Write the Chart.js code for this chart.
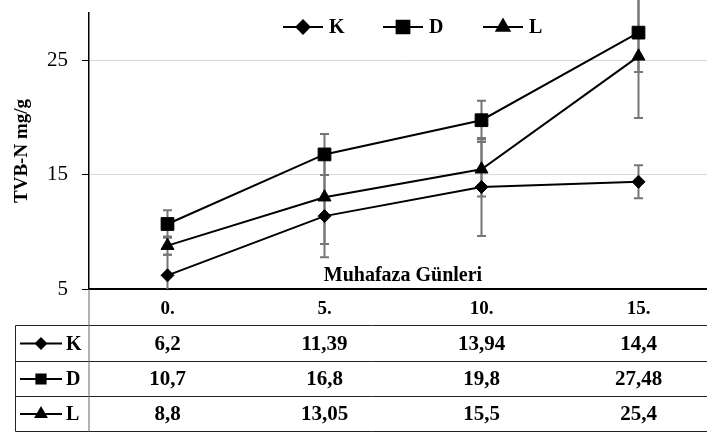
<!DOCTYPE html>
<html>
<head>
<meta charset="utf-8">
<script src="https://cdn.jsdelivr.net/npm/chart.js@4.4.1/dist/chart.umd.min.js"></script>
<style>
  html, body { margin: 0; padding: 0; background: #fff; overflow: hidden; }
</style>
</head>
<body>
<canvas id="tvbChart" width="727" height="436"></canvas>
<script>
// Veriler
const days = ['0.', '5.', '10.', '15.'];
const seriesNames = ['K', 'D', 'L'];
const valuesK = [6.2, 11.39, 13.94, 14.4];
const valuesD = [10.7, 16.8, 19.8, 27.48];
const valuesL = [8.8, 13.05, 15.5, 25.4];
// hata çubukları (± değer)
const errK = [1.8, 3.6, 4.3, 1.45];
const errD = [1.2, 1.8, 1.7, 3.45];
const errL = [0.8, 4.1, 2.4, 5.4];
const yTicks = [5, 15, 25];

const FONT = "'Liberation Serif', 'Times New Roman', serif";
const markers = [
  { style: 'rectRot', radius: 6.5, small: 5 },
  { style: 'rect', radius: 9, small: 6.5 },
  { style: 'triangle', radius: 7.5, small: 6 }
];

const fmt = v => v.toString().replace('.', ',');

const extras = {
  id: 'tvbExtras',
  beforeDatasetsDraw(chart) {
    const { ctx, chartArea } = chart;
    const xs = chart.scales.x, ys = chart.scales.y;
    const errs = [errK, errD, errL];
    ctx.save();
    ctx.strokeStyle = '#767676';
    ctx.lineWidth = 2;
    chart.data.datasets.forEach((ds, i) => {
      ds.data.forEach((v, j) => {
        const x = xs.getPixelForValue(j);
        const yTop = ys.getPixelForValue(v + errs[i][j]);
        let yBot = ys.getPixelForValue(v - errs[i][j]);
        const clipped = yBot > chartArea.bottom;
        if (clipped) yBot = chartArea.bottom;
        ctx.beginPath();
        ctx.moveTo(x, yTop); ctx.lineTo(x, yBot);
        ctx.moveTo(x - 4.5, yTop); ctx.lineTo(x + 4.5, yTop);
        if (!clipped) { ctx.moveTo(x - 4.5, yBot); ctx.lineTo(x + 4.5, yBot); }
        ctx.stroke();
      });
    });
    ctx.restore();
  },
  afterDraw(chart) {
    const { ctx, chartArea, width } = chart;
    const xs = chart.scales.x;
    const drawKey = (cx, cy, half, m, r) => {
      ctx.save();
      ctx.strokeStyle = '#000';
      ctx.lineWidth = 2;
      ctx.beginPath();
      ctx.moveTo(cx - half, cy); ctx.lineTo(cx + half, cy);
      ctx.stroke();
      Chart.helpers.drawPoint(ctx, { pointStyle: m.style, radius: r, borderWidth: 1, rotation: 0 }, cx, cy);
      ctx.restore();
    };
    ctx.save();
    ctx.fillStyle = '#000';
    ctx.strokeStyle = '#000';

    // üst lejant
    ctx.font = 'bold 20px ' + FONT;
    ctx.textBaseline = 'middle';
    ctx.textAlign = 'left';
    seriesNames.forEach((name, i) => {
      const cx = 303 + i * 100;
      ctx.fillStyle = '#000';
      drawKey(cx, 27, 20, markers[i], markers[i].radius);
      ctx.fillStyle = '#000';
      ctx.fillText(name, cx + 26, 28);
    });

    // eksen başlığı
    ctx.font = 'bold 20px ' + FONT;
    ctx.textAlign = 'center';
    ctx.fillText('Muhafaza Günleri', (chartArea.left + chartArea.right) / 2, chartArea.bottom - 13);

    // veri tablosu
    const rowLines = [325.5, 361.5, 396.5, 431.5];
    ctx.lineWidth = 1;
    ctx.strokeStyle = '#222';
    ctx.beginPath();
    rowLines.forEach(y => { ctx.moveTo(15.5, y); ctx.lineTo(width, y); });
    ctx.moveTo(15.5, rowLines[0]); ctx.lineTo(15.5, rowLines[3]);
    ctx.stroke();
    ctx.strokeStyle = '#666';
    ctx.beginPath();
    ctx.moveTo(chartArea.left, chartArea.bottom); ctx.lineTo(chartArea.left, rowLines[3]);
    ctx.stroke();

    const rows = [valuesK, valuesD, valuesL];
    rows.forEach((vals, i) => {
      const cy = (rowLines[i] + rowLines[i + 1]) / 2;
      ctx.fillStyle = '#000';
      drawKey(41, cy, 21, markers[i], markers[i].small);
      ctx.fillStyle = '#000';
      ctx.font = 'bold 20px ' + FONT;
      ctx.textAlign = 'left';
      ctx.fillText(seriesNames[i], 66, cy + 1);
      ctx.font = 'bold 21px ' + FONT;
      ctx.textAlign = 'center';
      vals.forEach((v, j) => ctx.fillText(fmt(v), xs.getPixelForValue(j), cy + 1));
    });
    ctx.restore();
  }
};

const makeSet = (label, data, m) => ({
  label,
  data,
  borderColor: '#000',
  backgroundColor: '#000',
  borderWidth: 2,
  pointStyle: m.style,
  pointRadius: m.radius,
  pointBorderWidth: 1,
  pointBackgroundColor: '#000',
  pointBorderColor: '#000',
  tension: 0,
  clip: false
});

new Chart(document.getElementById('tvbChart').getContext('2d'), {
  type: 'line',
  data: {
    labels: days,
    datasets: [
      makeSet(seriesNames[0], valuesK, markers[0]),
      makeSet(seriesNames[1], valuesD, markers[1]),
      makeSet(seriesNames[2], valuesL, markers[2])
    ]
  },
  options: {
    responsive: false,
    devicePixelRatio: 1,
    animation: false,
    layout: { padding: { top: 13, right: 3, left: 0, bottom: 0 } },
    plugins: {
      legend: { display: false },
      tooltip: { enabled: false }
    },
    scales: {
      x: {
        offset: true,
        afterFit: s => { s.height = 147; s.paddingLeft = 0; s.paddingRight = 0; },
        ticks: { color: '#000', font: { family: FONT, size: 19, weight: 'bold' }, padding: 9 },
        grid: { display: false, drawTicks: false, offset: true },
        border: { color: '#000', width: 2 }
      },
      y: {
        min: 5,
        max: 29.2,
        afterBuildTicks: s => { s.ticks = yTicks.map(v => ({ value: v })); },
        afterFit: s => { s.width = 89; s.paddingTop = 0; s.paddingBottom = 0; },
        ticks: { color: '#000', font: { family: FONT, size: 21 }, padding: 14 },
        grid: { color: '#d9d9d9', tickColor: '#000', tickLength: 7, lineWidth: 1 },
        border: { color: '#000', width: 1.5 },
        title: {
          display: true,
          text: 'TVB-N mg/g',
          color: '#000',
          font: { family: FONT, size: 19, weight: 'bold' },
          padding: { top: 11, bottom: 0 }
        }
      }
    }
  },
  plugins: [extras]
});
</script>
</body>
</html>
